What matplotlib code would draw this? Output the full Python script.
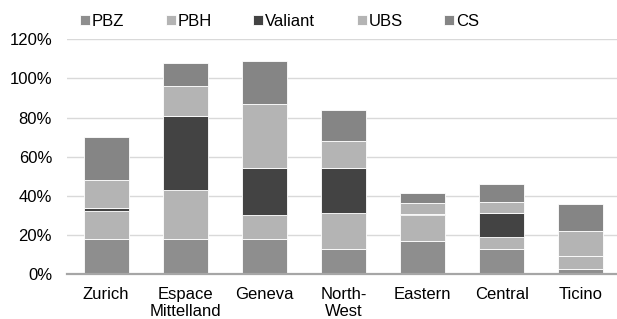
import matplotlib.pyplot as plt
import numpy as np

plt.rcParams['font.family'] = ['Liberation Sans', 'DejaVu Sans']

# data (percent)
regions = ["Zurich", "Espace\nMittelland", "Geneva", "North-\nWest", "Eastern", "Central", "Ticino"]
banks = ["PBZ", "PBH", "Valiant", "UBS", "CS"]
pbz = [18, 18, 18, 13, 17, 13, 2.5]
pbh = [14, 25, 12, 18, 13, 6, 6.5]
valiant = [2, 38, 24, 23, 0.7, 12, 0]
ubs = [14, 15, 33, 14, 5.5, 6, 13]
cs = [22, 12, 22, 16, 5, 9, 14]
series = [pbz, pbh, valiant, ubs, cs]
colors = ["#8e8e8e", "#b4b4b4", "#434343", "#b4b4b4", "#858585"]

fig = plt.figure(figsize=(6.17, 3.19), dpi=100)
ax = fig.add_axes([0.108, 0.141, 0.8976, 0.7357])

x = np.arange(len(regions))
bottom = np.zeros(len(regions))
for name, vals, c in zip(banks, series, colors):
    v = np.array(vals) / 100
    ax.bar(x, v, 0.569, bottom=bottom, color=c, edgecolor="white", linewidth=0.6, label=name, zorder=3)
    bottom += v

ax.set_xlim(-0.5, len(regions) - 0.5)
ax.set_ylim(0, 1.2)
ticks = np.arange(0, 1.21, 0.2)
ax.set_yticks(ticks)
ax.set_yticklabels([f"{int(round(t * 100))}%" for t in ticks])
ax.set_xticks(x)
ax.set_xticklabels(regions, linespacing=1.15)
ax.tick_params(axis="both", length=0, labelsize=12, colors="black")
ax.tick_params(axis="x", pad=9.5)
ax.tick_params(axis="y", pad=10.5)
ax.grid(axis="y", color="#d9d9d9", linewidth=1, zorder=0)
for s in ["top", "right", "left"]:
    ax.spines[s].set_visible(False)
ax.spines["bottom"].set_color("#a6a6a6")
ax.spines["bottom"].set_linewidth(1.6)
ax.spines["bottom"].set_zorder(4)

fig.legend(loc="center left", bbox_to_anchor=(80 / 617, 1 - 21 / 319), ncol=5, frameon=False,
           fontsize=12, handlelength=0.6, handleheight=0.55, handletextpad=0.1,
           columnspacing=2.5, borderpad=0, borderaxespad=0)

fig.savefig("out.png", dpi=100)
